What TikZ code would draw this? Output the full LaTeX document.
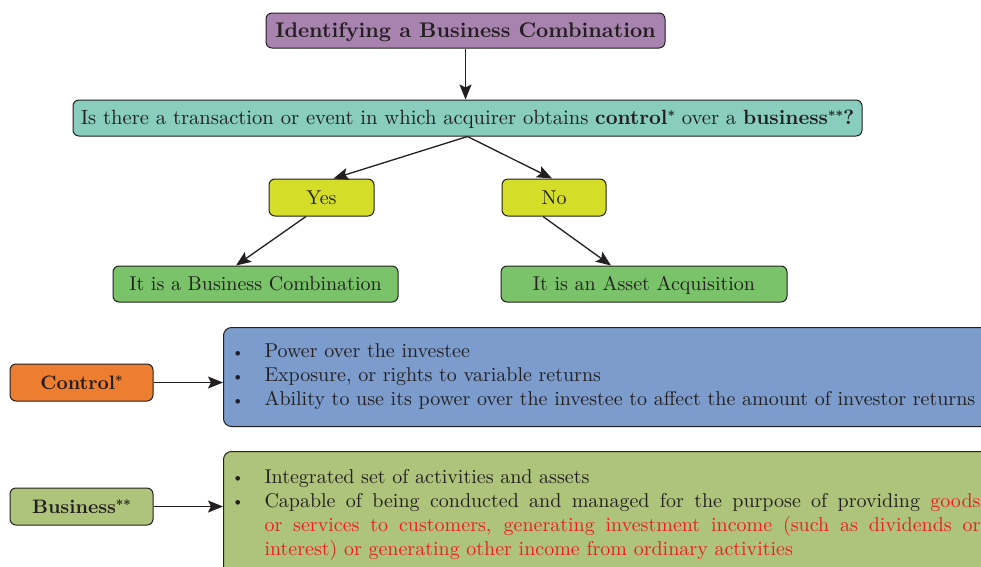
\documentclass[tikz,border=0pt]{standalone}
\usepackage{fontspec}
\setmainfont{lmroman10-regular}[Extension=.otf,BoldFont=lmroman10-bold]
\usepackage{tikz}
\usetikzlibrary{positioning,arrows.meta,calc}
\definecolor{TitlePurple}{RGB}{169,131,176}
\definecolor{QuestTeal}{RGB}{136,205,190}
\definecolor{AnswerYellow}{RGB}{212,222,40}
\definecolor{ResultGreen}{RGB}{122,195,106}
\definecolor{ControlOrange}{RGB}{237,125,49}
\definecolor{ControlBlue}{RGB}{123,156,204}
\definecolor{BusinessOlive}{RGB}{174,196,123}
\definecolor{TextDark}{RGB}{35,31,32}
\definecolor{NoteRed}{RGB}{237,28,36}
\newcommand{\itembul}{\leavevmode\llap{\raisebox{0.8pt}{\fontsize{16}{16}\selectfont\textbullet}\hspace{20.5pt}}}
\newcommand{\fullline}[1]{\makebox[716pt][s]{\spaceskip=.3em plus 1fil #1}}
\newcommand{\starmark}[1]{\raisebox{4pt}{\fontsize{13}{13}\selectfont #1}}
\tikzset{
  box/.style={draw=TextDark,line width=1pt,rounded corners=6pt,align=center,text=TextDark,font=\fontsize{20}{24}\selectfont,inner sep=0pt,text height=17.8pt,text depth=4pt},
  bigbox/.style={box,rounded corners=8pt,align=left,anchor=north west,text height=,text depth=},
  arrow/.style={-{Stealth[length=15pt,width=12pt,inset=3pt]},line width=1.3pt,draw=TextDark},
}
\begin{document}
\begin{tikzpicture}[x=1pt,y=-1pt]
  \clip (0,0) rectangle (981,566);
  % decision tree
  \node[box,fill=TitlePurple,minimum width=399,minimum height=35,font=\fontsize{21.2}{24}\selectfont\bfseries] (title) at (465.5,30.5) {Identifying a Business Combination};
  \node[box,fill=QuestTeal,minimum width=789,minimum height=36,font=\fontsize{20.6}{24}\selectfont] (quest) at (467.5,118)
    {Is there a transaction or event in which acquirer obtains \textbf{control\starmark{*}} over a \textbf{business\starmark{**}?}};
  \node[box,fill=AnswerYellow,minimum width=105,minimum height=37] (yes) at (321.5,197.5) {Yes};
  \node[box,fill=AnswerYellow,minimum width=104,minimum height=37] (no) at (554,197.5) {No};
  \node[box,fill=ResultGreen,minimum width=285,minimum height=36] (comb) at (255.5,284) {It is a Business Combination};
  \node[box,fill=ResultGreen,minimum width=286,minimum height=36] (asset) at (644,284) {It is an Asset Acquisition};
  \draw[arrow] (title.south) -- (title.south |- quest.north);
  \draw[arrow] (quest.south) -- ([xshift=12pt]yes.north);
  \draw[arrow] (quest.south) -- ([xshift=-2pt]no.north);
  \draw[arrow] ([xshift=-15.5pt]yes.south) -- ([xshift=-19.5pt]comb.north);
  \draw[arrow] ([xshift=-11pt]no.south) -- ([xshift=-33pt]asset.north);
  % definitions
  \node[box,fill=ControlOrange,minimum width=143,minimum height=37,font=\fontsize{19.5}{24}\selectfont\bfseries] (ctrl) at (81.5,382.5) {Control\starmark{*}};
  \node[bigbox,fill=ControlBlue,minimum width=798,minimum height=99,text width=716] (ctrlbox) at (223,327)
    {\itembul Power over the investee\\
     \itembul Exposure, or rights to variable returns\\
     \itembul Ability to use its power over the investee to affect the amount of investor returns};
  \node[box,fill=BusinessOlive,minimum width=143,minimum height=37,font=\fontsize{19.5}{24}\selectfont\bfseries] (bus) at (81.5,506.5) {Business\starmark{**}};
  \node[bigbox,fill=BusinessOlive,minimum width=798,minimum height=127,text width=716] (busbox) at (223,451)
    {\itembul Integrated set of activities and assets\\
     \itembul \fullline{Capable of being conducted and managed for the purpose of providing \textcolor{NoteRed}{goods}}\\
     \color{NoteRed}\fullline{or services to customers, generating investment income (such as dividends or}\\
     interest) or generating other income from ordinary activities};
  \draw[arrow] (ctrl.east) -- (ctrl.east -| ctrlbox.west);
  \draw[arrow] (bus.east) -- (bus.east -| busbox.west);
\end{tikzpicture}
\end{document}
